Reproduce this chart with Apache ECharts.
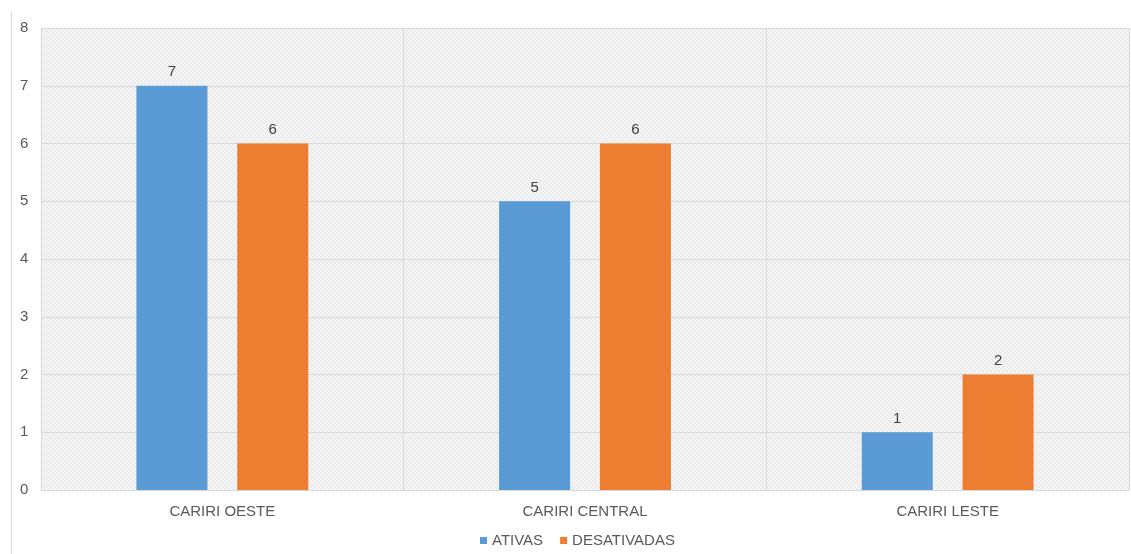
<!DOCTYPE html>
<html>
<head>
<meta charset="utf-8">
<script src="https://cdn.jsdelivr.net/npm/echarts@6/dist/echarts.min.js"></script>
<style>html,body{margin:0;padding:0;background:#fff}#c{width:1131px;height:554px}</style>
</head>
<body>
<div id="c"></div>
<script>
const categories = ['CARIRI OESTE', 'CARIRI CENTRAL', 'CARIRI LESTE'];
const ativas = [7, 5, 1];
const desativadas = [6, 6, 2];
const yTicks = [0, 1, 2, 3, 4, 5, 6, 7, 8];

function makePattern() {
  const c = document.createElement('canvas');
  c.width = 4; c.height = 4;
  const g = c.getContext('2d');
  g.fillStyle = '#f5f5f5';
  g.fillRect(0, 0, 4, 4);
  g.fillStyle = '#e2e2e2';
  for (let i = 0; i < 4; i++) g.fillRect(i, i, 1, 1);
  return c;
}

const chart = echarts.init(document.getElementById('c'), null, {renderer: 'canvas'});
const font = 'Liberation Sans, Arial, sans-serif';
chart.setOption({
  animation: false,
  textStyle: {fontFamily: font},
  grid: {
    left: 41, right: 2, top: 28, bottom: 64,
    show: true,
    backgroundColor: {image: makePattern(), repeat: 'repeat'},
    borderWidth: 0
  },
  graphic: [{
    type: 'line', shape: {x1: 11.5, y1: 12, x2: 11.5, y2: 554},
    style: {stroke: '#d9d9d9', lineWidth: 1}, silent: true
  }],
  legend: {
    data: ['ATIVAS', 'DESATIVADAS'],
    bottom: 1, left: 475,
    itemWidth: 7, itemHeight: 7, itemGap: 17,
    icon: 'rect',
    textStyle: {color: '#595959', fontSize: 15, fontFamily: font}
  },
  xAxis: {
    type: 'category',
    data: categories,
    axisLine: {show: true, lineStyle: {color: '#d9d9d9'}},
    axisTick: {show: false},
    axisLabel: {color: '#595959', fontSize: 15, margin: 14, fontFamily: font},
    splitLine: {show: true, lineStyle: {color: '#d9d9d9'}}
  },
  yAxis: {
    type: 'value',
    min: yTicks[0], max: yTicks[yTicks.length - 1], interval: 1,
    axisLine: {show: false},
    axisTick: {show: false},
    axisLabel: {color: '#595959', fontSize: 15, align: 'left', margin: 21, fontFamily: font},
    splitLine: {show: true, lineStyle: {color: '#d9d9d9'}}
  },
  series: [{
    name: 'ATIVAS', type: 'bar', data: ativas,
    barWidth: 71, barGap: '42%',
    itemStyle: {color: '#5b9bd5'},
    label: {show: true, position: 'top', color: '#404040', fontSize: 15, distance: 6, fontFamily: font}
  }, {
    name: 'DESATIVADAS', type: 'bar', data: desativadas,
    barWidth: 71,
    itemStyle: {color: '#ed7d31'},
    label: {show: true, position: 'top', color: '#404040', fontSize: 15, distance: 6, fontFamily: font}
  }]
});
</script>
</body>
</html>
